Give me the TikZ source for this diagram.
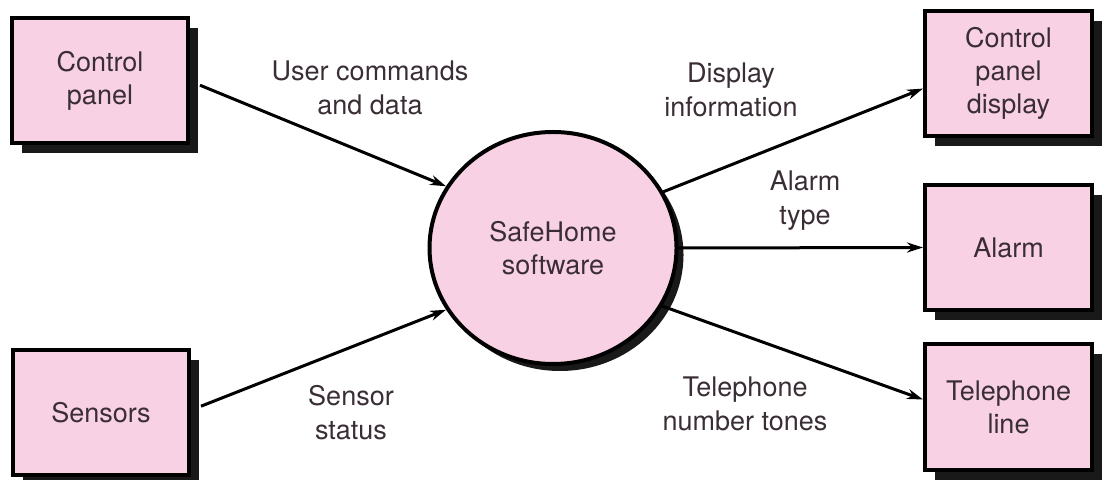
\documentclass[tikz,border=0pt]{standalone}
\usepackage{fontspec}
\setmainfont{TeX Gyre Heros}
\usetikzlibrary{arrows.meta,shadows,shapes.geometric}
\definecolor{boxpink}{RGB}{249,209,228}
\definecolor{inkgray}{RGB}{58,46,54}

\begin{document}
\begin{tikzpicture}[x=0.5pt,y=-0.5pt,entity/.style={draw=black,line width=2pt,fill=boxpink,align=center,minimum width=88pt,minimum height=62.5pt,inner sep=2pt,text=inkgray,font=\fontsize{13.5}{16.5}\selectfont,drop shadow={shadow xshift=5pt,shadow yshift=-5pt,fill=black!90,opacity=1}},process/.style={ellipse,draw=black,line width=2pt,fill=boxpink,align=center,minimum width=123.5pt,minimum height=116pt,inner sep=0pt,text=inkgray,font=\fontsize{13.5}{16.5}\selectfont,drop shadow={shadow xshift=3.5pt,shadow yshift=-3.5pt,fill=black!90,opacity=1}},flow/.style={align=center,text=inkgray,font=\fontsize{13.5}{17}\selectfont},arrow/.style={-{Stealth[length=8pt,width=5pt]},line width=1.5pt,draw=black}]
\useasboundingbox (0,0) rectangle (1102,480);
\node[entity] (cp) at (100,80.5) {Control\\panel};
\node[entity] (sen) at (101,412.5) {Sensors};
\node[process] (sw) at (553,248) {SafeHome\\software};
\node[entity,minimum width=83.5pt] (cpd) at (1008.5,73.5) {Control\\panel\\display};
\node[entity,minimum width=83.5pt] (alm) at (1008.5,247.5) {Alarm};
\node[entity,minimum width=83.5pt] (tel) at (1008.5,407) {Telephone\\line};
\node[flow] (l0) at (370,88) {User commands\\and data};
\node[flow] (l1) at (351,413) {Sensor\\status};
\node[flow] (l2) at (731,90) {Display\\information};
\node[flow] (l3) at (805,201) {Alarm\\type};
\node[flow] (l4) at (745,404) {Telephone\\number tones};
\draw[arrow] ([xshift=5pt]cp.-3) -- (sw.150);
\draw[arrow] ([xshift=5pt]sen.4) -- (sw.210);
\draw[arrow] (sw.27) -- (cpd.190);
\draw[arrow] (sw.east) -- (alm.west);
\draw[arrow] (sw.-28) -- (tel.175);
\end{tikzpicture}
\end{document}
